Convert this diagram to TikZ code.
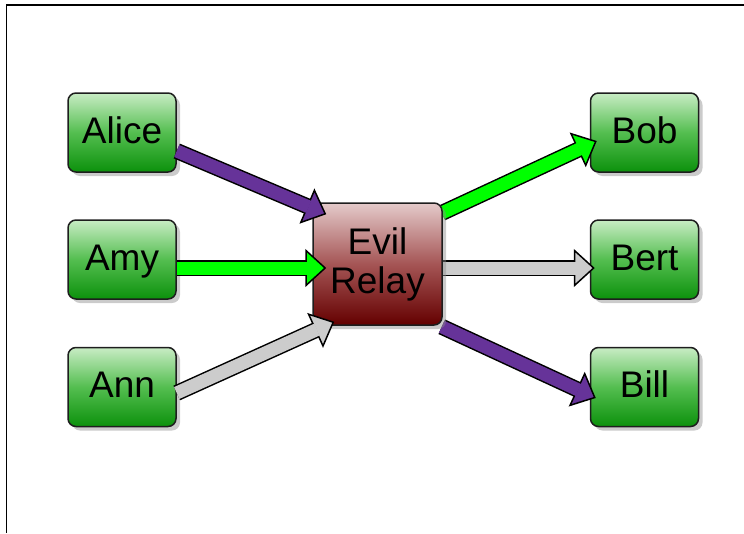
\documentclass[tikz,border=0pt]{standalone}
\usepackage{fontspec}
\setmainfont{Liberation Sans}
\usetikzlibrary{arrows.meta,shadows,calc}
\pgfdeclarelayer{bg}
\pgfsetlayers{bg,main}
\definecolor{purp}{RGB}{102,51,153}
\definecolor{lime}{RGB}{0,255,0}
\definecolor{lgrey}{RGB}{204,204,204}
\definecolor{edgec}{RGB}{30,30,30}
\definecolor{gtop}{RGB}{200,236,196}
\definecolor{gmid}{RGB}{84,190,80}
\definecolor{gbot}{RGB}{12,145,12}
\definecolor{rtop}{RGB}{228,202,202}
\definecolor{rmid}{RGB}{165,85,85}
\definecolor{rbot}{RGB}{100,0,0}
\begin{document}
\begin{tikzpicture}[x=1pt,y=-1pt,
  boxbase/.style={draw=edgec, line width=1.5pt, rounded corners=8pt, inner sep=0pt,
    font=\fontsize{37}{39}\selectfont,
    drop shadow={shadow xshift=4pt, shadow yshift=-4pt, fill=black!45, opacity=0.45}},
  person/.style={boxbase, minimum width=108pt, minimum height=79pt,
    text height=26pt, text depth=5pt,
    top color=gtop, bottom color=gbot, middle color=gmid},
  relaybox/.style={boxbase, minimum width=129pt, minimum height=122pt, align=center,
    top color=rtop, bottom color=rbot, middle color=rmid},
  fatarrow/.style={draw=black, line width=16pt,
    -{Triangle[length=21pt, width=38pt, line width=1.5pt, fill=#1]},
    postaction={draw=#1, line width=13pt, -, shorten >=19pt}}
]
\useasboundingbox (0,0) rectangle (744,533);
\draw[line width=1.5pt] (744,5) -- (6.5,5) -- (6.5,533);

\node[relaybox] (relay) at (377.5,264) {Evil\\Relay};

\coordinate (alicePos) at (122,132.5);
\coordinate (amyPos) at (122,259.5);
\coordinate (annPos) at (122,387);

\begin{pgfonlayer}{bg}
\node[person] (bob)   at (644.5,132.5) {Bob};
\node[person] (bert)  at (644.5,259.5) {Bert};
\node[person] (bill)  at (644.5,387)   {Bill};
\draw[fatarrow=lime]  ($(relay.east)+(-1,-51)$) -- ($(bob.west)+(7,8.5)$);
\draw[fatarrow=lgrey] ($(relay.east)+(-1,4)$) -- ($(bert.west)+(5,8.5)$);
\draw[fatarrow=purp]  ($(relay.south east)+(-1,1)$) -- ($(bill.west)+(6,11)$);
\end{pgfonlayer}

\node[person] (alice) at (alicePos) {Alice};
\node[person] (amy)   at (amyPos) {Amy};
\node[person] (ann)   at (annPos) {Ann};

\draw[fatarrow=purp]  ($(alice.east)+(0,18.5)$) -- ($(relay.north west)+(14,12)$);
\draw[fatarrow=lime]  ($(amy.east)+(0,8.5)$) -- ($(relay.west)+(14,4)$);
\draw[fatarrow=lgrey] ($(ann.east)+(0,6)$) -- ($(relay.south west)+(22,-4)$);
\end{tikzpicture}
\end{document}
